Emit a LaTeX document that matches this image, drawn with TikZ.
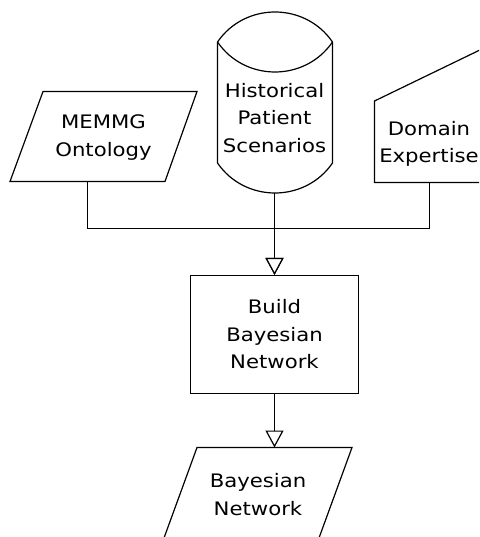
\documentclass[tikz,border=0pt]{standalone}
\usepackage{fontspec}
\setmainfont{DejaVu Sans}[FakeStretch=1.14]
\usetikzlibrary{arrows.meta}
\begin{document}
\begin{tikzpicture}[x=1pt,y=-1pt,
  shp/.style={draw=black, line width=1.2pt, line join=miter},
  txt/.style={align=center, font=\fontsize{18.6}{27.5}\selectfont, inner sep=0pt},
  con/.style={draw=black, line width=1.2pt},
  arr/.style={-{Triangle[open,length=17pt,width=18pt,fill=white]}}]
\clip (0,0) rectangle (479,537);
\fill[white] (0,0) rectangle (479,537);
% MEMMG Ontology
\draw[shp] (43,91.5) -- (197,91.5) -- (165,181.5) -- (10,181.5) -- cycle;
\node[txt] (memmg) at (103.5,137.5) {MEMMG\\Ontology};
\coordinate (memmgS) at (87.5,181.5);
% Historical Patient Scenarios (cylinder)
\draw[shp] (217.5,42) .. controls (245,2) and (305,2) .. (332.5,42) -- (332.5,163)
  .. controls (305,203) and (245,203) .. (217.5,163) -- cycle;
\draw[shp] (217.5,42) .. controls (245,82) and (305,82) .. (332.5,42);
\node[txt] (hist) at (274.5,118) {Historical\\Patient\\Scenarios};
\coordinate (histS) at (274.5,193);
% Domain Expertise (manual input)
\draw[shp] (374.5,101) -- (484,48) -- (484,182.5) -- (374.5,182.5) -- cycle;
\node[txt] (dom) at (429,144) {Domain\\Expertise};
\coordinate (domS) at (429.5,182.5);
% Build Bayesian Network
\node[txt, draw=black, line width=1.2pt, minimum width=168pt, minimum height=118pt] (build) at (274.5,334.5) {Build\\Bayesian\\Network};
% Bayesian Network (output)
\draw[shp] (197,447.5) -- (352,447.5) -- (319,538) -- (164,538) -- cycle;
\node[txt] (bn) at (258,494.5) {Bayesian\\Network};
\coordinate (bnN) at (274.5,447.5);
% connectors
\coordinate (join) at (274.5,228.5);
\draw[con] (memmgS) |- (join);
\draw[con] (domS) |- (join);
\draw[con,arr] (histS) -- (build.north);
\draw[con,arr] (join) -- (build.north);
\draw[con,arr] (build.south) -- (bnN);
\end{tikzpicture}
\end{document}
